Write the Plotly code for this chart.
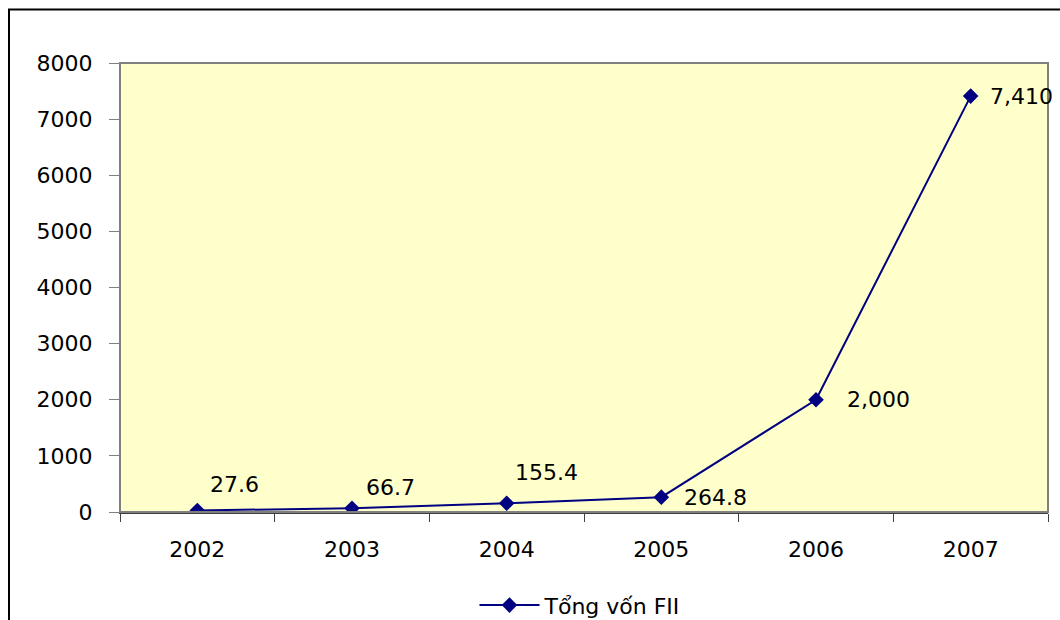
import plotly.graph_objects as go

# Tổng vốn FII theo năm
years = ["2002", "2003", "2004", "2005", "2006", "2007"]
fii_total = [27.6, 66.7, 155.4, 264.8, 2000, 7410]
series_name = "Tổng vốn FII"

FONT = "DejaVu Sans"
NAVY = "#000080"
FS = 22

# label placement (pixel offsets from each marker)
label_dx = [37, 38, 40, 54, 62, 51]
label_dy = [26, 21, 31, 0, 0, 0]


def fmt(v):
    return f"{v:,.0f}" if v >= 1000 else f"{v:,.1f}"


x_idx = list(range(len(years)))

fig = go.Figure()
fig.add_trace(go.Scatter(
    x=x_idx, y=fii_total, name=series_name, mode="lines+markers",
    line=dict(color=NAVY, width=2),
    marker=dict(symbol="diamond", size=12, color=NAVY),
    showlegend=True,
))

for i, v in enumerate(fii_total):
    fig.add_annotation(
        x=i, y=v, text=fmt(v), showarrow=False,
        xshift=label_dx[i], yshift=label_dy[i],
        font=dict(family=FONT, size=FS, color="black"),
    )

# outer chart frame (extends past the right and bottom edges)
L, R, T, B = 120, 1048, 62.5, 512.5
W, H = R - L, B - T
fig.add_shape(
    type="rect", xref="paper", yref="paper", layer="above",
    x0=(9 - L) / W, x1=(1075 - L) / W,
    y0=(B - 640) / H, y1=(B - 9) / H,
    line=dict(color="black", width=2), fillcolor="rgba(0,0,0,0)",
)
# plot-area border
fig.add_shape(
    type="rect", xref="paper", yref="paper", layer="above",
    x0=0, x1=1, y0=0, y1=1,
    line=dict(color="#808080", width=2), fillcolor="rgba(0,0,0,0)",
)

fig.update_layout(
    width=1060, height=620,
    margin=dict(l=L, r=1060 - R, t=T, b=620 - B, autoexpand=False),
    paper_bgcolor="white", plot_bgcolor="#FFFFCC",
    font=dict(family=FONT, size=FS, color="black"),
    showlegend=True,
    legend=dict(
        orientation="h", x=(580 - L) / W, xanchor="center",
        y=(B - 606) / H, yanchor="middle",
        font=dict(family=FONT, size=FS, color="black"),
        bgcolor="rgba(0,0,0,0)", itemwidth=60,
    ),
)

fig.update_xaxes(
    range=[-0.5, len(years) - 0.5], tickmode="array",
    tickvals=x_idx, ticktext=years, ticks="", ticklen=0,
    ticklabelstandoff=17, showgrid=False, zeroline=False,
    showline=True, linecolor="#404040", linewidth=2,
    minor=dict(ticks="outside", ticklen=8, tickwidth=1, tickcolor="#404040",
               tick0=-0.5, dtick=1, showgrid=False),
)
fig.update_yaxes(
    range=[0, 8000], dtick=1000, tickformat="d",
    ticks="outside", ticklen=10, tickwidth=1, tickcolor="#808080",
    ticklabelstandoff=12, showgrid=False, zeroline=False,
    showline=True, linecolor="black", linewidth=1,
)

fig.write_html("out.html")
